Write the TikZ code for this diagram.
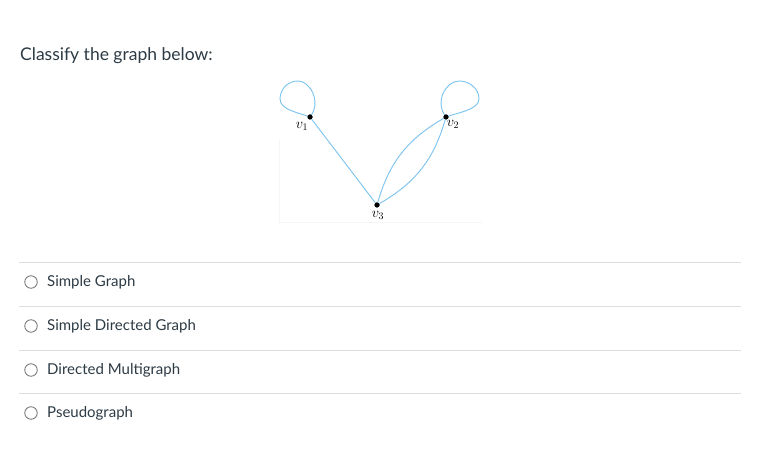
\documentclass[tikz,border=0pt]{standalone}
\usepackage{fontspec}
\setmainfont{Lato}
\definecolor{canvastext}{HTML}{2D3B45}
\definecolor{edgeblue}{HTML}{7AC3EE}
\definecolor{rulegray}{HTML}{DDDDDD}

\begin{document}
\begin{tikzpicture} [x=1pt,y=-1pt,
  vert/.style= {circle,fill=black,inner sep=0,minimum size=5pt},
  vlabel/.style= {inner sep=0,font=\fontsize{14}{16}\selectfont},
  edge/.style= {edgeblue,line width=0.9pt},
  sep/.style= {rulegray,line width=0.9pt},
  radio/.style= {circle,draw=black!55,line width=0.8pt,minimum size=12.5pt,inner sep=0},
  answer/.style= {anchor=base west,inner sep=0,text=canvastext,font=\fontsize{15}{17}\selectfont}]
\useasboundingbox[fill=white] (0,0) rectangle (761,454);

\node[anchor=base west,inner sep=0,text=canvastext,font=\fontsize{17.5}{20}\selectfont] (title) at (20,61) {Classify the graph below:};

% faint frame of the figure
\coordinate (ftop) at (279,140);
\coordinate (fcorner) at (279,222);
\coordinate (fright) at (482,222);
\draw[black!4,line width=0.8pt] (ftop) -- (fcorner) -- (fright);

% the graph
\node[vert] (v1) at (310,117) {};
\node[vert] (v2) at (446,117) {};
\node[vert] (v3) at (377,205) {};
\node[vlabel] (l1) at (302,126) {$v_1$};
\node[vlabel] (l2) at (453,124) {$v_2$};
\node[vlabel] (l3) at (378,215) {$v_3$};

\draw[edge] (v1) -- (v3);
\draw[edge] (v3) to[bend left=22] (v2);
\draw[edge] (v3) to[bend right=22] (v2);
\draw[edge] (v1.center) .. controls (300,113) and (280,110) .. (280,99)
  .. controls (280,89) and (288,81) .. (298,81)
  .. controls (310,81) and (322,102) .. (v1.center);
\draw[edge] (v2.center) .. controls (456,113) and (479,110) .. (479,99)
  .. controls (479,89) and (470,81) .. (459,81)
  .. controls (446,81) and (434,102) .. (v2.center);
\node[vert] at (v1) {};
\node[vert] at (v2) {};
\node[vert] at (v3) {};

% answers
\foreach \y/\txt [count=\k] in {287/Simple Graph,331/Simple Directed Graph,375/Directed Multigraph,418/Pseudograph}{%
  \coordinate (sl\k) at (19,\y-25);
  \coordinate (sr\k) at (741,\y-25);
  \draw[sep] (sl\k) -- (sr\k);
  \node[radio] (r\k) at (31,\y-5) {};
  \node[answer] (a\k) at (47,\y) {\txt};}
\end{tikzpicture}
\end{document}
